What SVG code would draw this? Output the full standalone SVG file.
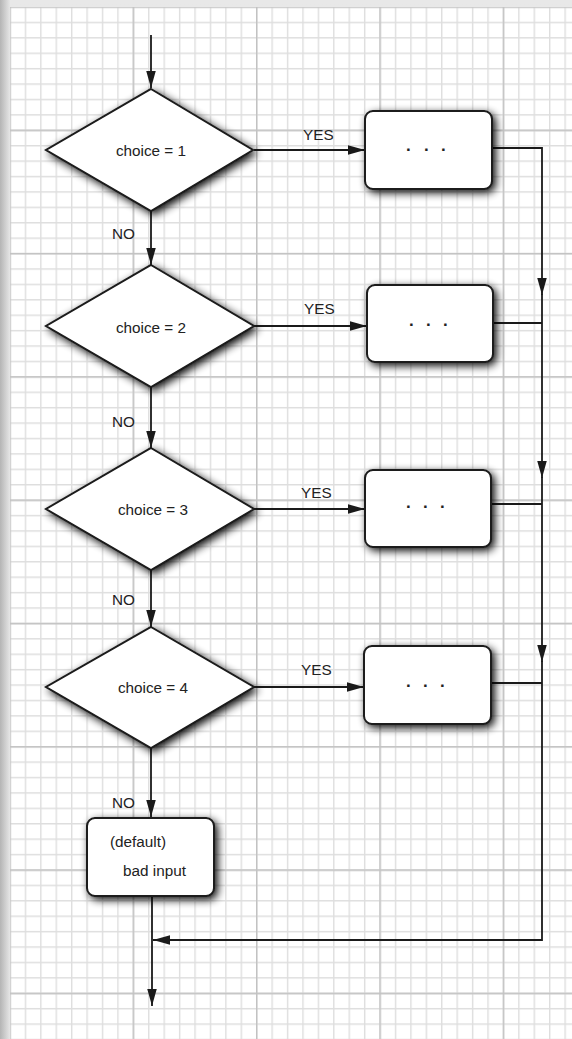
<svg xmlns="http://www.w3.org/2000/svg" width="572" height="1039" viewBox="0 0 572 1039">
<style>
.sh{fill:#fff;stroke:#1a1a1a;stroke-width:2;filter:url(#ds)}
.t{font-family:"Liberation Sans",Arial,sans-serif;font-size:15.3px;fill:#222}
.dt{font-family:"Liberation Sans",Arial,sans-serif;font-size:17px;font-weight:bold;fill:#222}
.c{fill:none;stroke:#1a1a1a;stroke-width:1.8}
.a{marker-end:url(#ah)}
</style>
<defs>
<linearGradient id="lg" x1="0" y1="0" x2="1" y2="0">
<stop offset="0" stop-color="#b4b4b4"/><stop offset="1" stop-color="#e6e6e6"/>
</linearGradient>
<linearGradient id="tg" x1="0" y1="0" x2="0" y2="1">
<stop offset="0" stop-color="#e8e8e8"/><stop offset="1" stop-color="#dcdcdc"/>
</linearGradient>
<pattern id="minor" patternUnits="userSpaceOnUse" x="9.3" y="6.3" width="15.42" height="15.41">
<path d="M0.7,0V15.41M0,0.7H15.42" stroke="#dedede" stroke-width="1.4" fill="none"/>
</pattern>
<pattern id="major" patternUnits="userSpaceOnUse" x="9.3" y="6.3" width="123.36" height="123.3">
<path d="M0.7,0V123.3M0,0.7H123.36" stroke="#c2c2c2" stroke-width="1.4" fill="none"/>
</pattern>
<filter id="ds" x="-20%" y="-20%" width="150%" height="150%">
<feGaussianBlur in="SourceAlpha" stdDeviation="4"/>
<feOffset dx="3" dy="3" result="b"/>
<feComponentTransfer><feFuncA type="linear" slope="0.95"/></feComponentTransfer>
<feMerge><feMergeNode/><feMergeNode in="SourceGraphic"/></feMerge>
</filter>
<marker id="ah" markerUnits="userSpaceOnUse" markerWidth="18" markerHeight="10" refX="17" refY="4.75" orient="auto">
<path d="M0,0L17,4.75L0,9.5z" fill="#1a1a1a"/>
</marker>
</defs>
<g id="page">
<rect x="0" y="0" width="572" height="1039" fill="url(#tg)"/>
<rect x="0" y="0" width="10" height="1039" fill="url(#lg)"/>
<rect x="10" y="7" width="562" height="1032" fill="#fff"/>
<rect x="10" y="7" width="562" height="1032" fill="url(#minor)"/>
<rect x="10" y="7" width="562" height="1032" fill="url(#major)"/>
</g>
<g id="connectors">
<path class="c a" d="M151,35V88"/>
<path class="c a" d="M151,211V265"/>
<path class="c a" d="M151,387V448"/>
<path class="c a" d="M151,570V627"/>
<path class="c a" d="M151,748V817"/>
<path class="c a" d="M254,150H365"/>
<path class="c a" d="M254,326H367"/>
<path class="c a" d="M254,509H365"/>
<path class="c a" d="M254,687H364"/>
<path class="c a" d="M492,148H542V295"/>
<path class="c a" d="M542,294V478"/>
<path class="c a" d="M542,477V662"/>
<path class="c a" d="M542,661V940H153"/>
<path class="c" d="M493,323H542"/>
<path class="c" d="M491,504H542"/>
<path class="c" d="M491,683H542"/>
<path class="c a" d="M152,896V1006"/>
<text class="t" x="303" y="140">YES</text>
<text class="t" x="304" y="314">YES</text>
<text class="t" x="301" y="498">YES</text>
<text class="t" x="301" y="675">YES</text>
<text class="t" x="112" y="239">NO</text>
<text class="t" x="112" y="427">NO</text>
<text class="t" x="112" y="605">NO</text>
<text class="t" x="112" y="808">NO</text>
</g>
<g id="d1"><polygon class="sh" points="151,89 253,150 151,211 46,150"/><text class="t" x="151" y="156" text-anchor="middle">choice = 1</text></g>
<g id="d2"><polygon class="sh" points="151,265 254,326 151,387 46,326"/><text class="t" x="151" y="333" text-anchor="middle">choice = 2</text></g>
<g id="d3"><polygon class="sh" points="151,448 254,509 151,570 46,509"/><text class="t" x="153" y="515" text-anchor="middle">choice = 3</text></g>
<g id="d4"><polygon class="sh" points="151,627 254,687 151,748 46,687"/><text class="t" x="153" y="693" text-anchor="middle">choice = 4</text></g>
<g id="r1"><rect class="sh" x="365" y="111" width="127" height="78" rx="8"/><text class="dt" x="406 424 441" y="151">...</text></g>
<g id="r2"><rect class="sh" x="367" y="285" width="126" height="77" rx="8"/><text class="dt" x="409 426 443" y="326">...</text></g>
<g id="r3"><rect class="sh" x="365" y="470" width="126" height="77" rx="8"/><text class="dt" x="406 423 440" y="508">...</text></g>
<g id="r4"><rect class="sh" x="364" y="646" width="127" height="78" rx="8"/><text class="dt" x="406 423 440" y="687">...</text></g>
<g id="def"><rect class="sh" x="87" y="818" width="127" height="78" rx="8"/><text class="t" x="110" y="847">(default)</text><text class="t" x="123" y="876">bad input</text></g>
</svg>
